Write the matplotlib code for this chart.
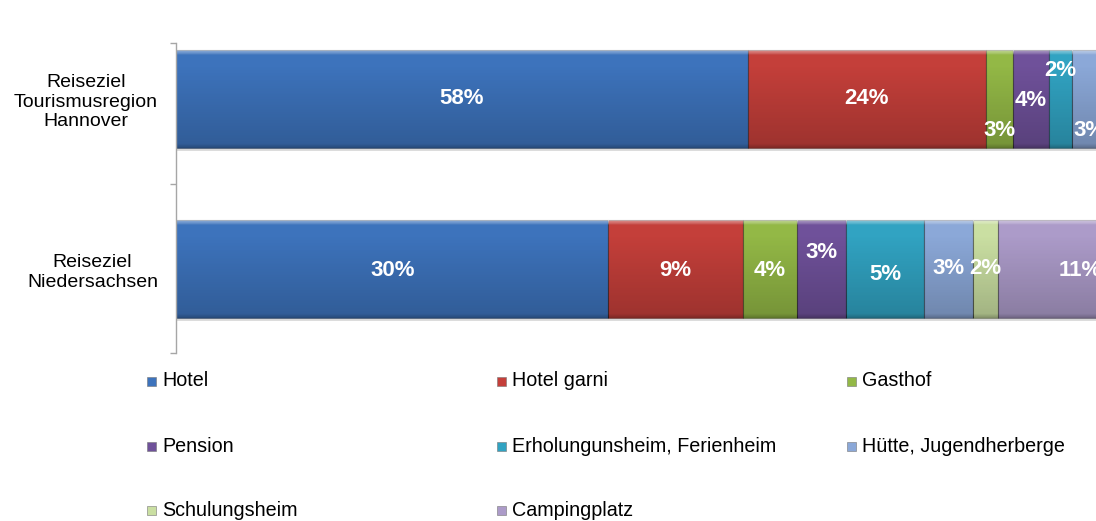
import numpy as np
import matplotlib
matplotlib.use("Agg")
import matplotlib.pyplot as plt
from matplotlib.patches import Rectangle

plt.rcParams['font.family'] = ['Liberation Sans', 'DejaVu Sans']

# ---------------- data ----------------
categories = ["Reiseziel\nTourismusregion\nHannover", "Reiseziel\nNiedersachsen"]
series = ["Hotel", "Hotel garni", "Gasthof", "Pension",
          "Erholungunsheim, Ferienheim", "Hütte, Jugendherberge",
          "Schulungsheim", "Campingplatz"]
hannover = [58.0, 24.1, 2.8, 3.6, 2.4, 3.4, 1.4, 4.3]
niedersachsen = [30.0, 9.3, 3.8, 3.4, 5.4, 3.4, 1.7, 11.4]
values = [hannover, niedersachsen]

# ---------------- style ----------------
colors = ["#3D73BC", "#C43F3A", "#93B846", "#6F519A",
          "#31A3C2", "#8BA8D8", "#CADFA2", "#AC9BC9"]
# vertical label offsets (pixels, positive = down), per category per series
label_dy_px = [[0, 0, 32, 1, -29, 32, 0, 0],
               [2, 2, 2, -16, 5, -1, -1, 2]]
px_per_unit = 170.0
bar_h = 98 / px_per_unit

W, H = 1096, 521
fig = plt.figure(figsize=(W / 100, H / 100), dpi=100)
ax = fig.add_axes([176 / W, 1 - 353 / H, 920 / W, (353 - 43) / H])

ylim = (1 + (353 - 269) / px_per_unit, -(99 - 43) / px_per_unit)
xlim = (0, 920 / 986)


def gradient_overlay(rect, x0, x1, yc):
    n = 120
    t = np.linspace(0, 1, n)
    g = np.zeros((n, 1, 4))
    top = np.clip(1 - t / 0.05, 0, 1) * 0.45
    dark = np.clip((t - 0.15) / 0.85, 0, 1) * 0.2 + np.clip((t - 0.96) / 0.04, 0, 1) * 0.15
    white = top > dark
    g[white, 0, :3] = 1.0
    g[white, 0, 3] = top[white]
    g[~white, 0, :3] = 0.0
    g[~white, 0, 3] = dark[~white]
    im = ax.imshow(g, extent=(x0, x1, yc + bar_h / 2, yc - bar_h / 2),
                   origin='upper', aspect='auto', zorder=3, interpolation='bilinear')
    im.set_clip_path(rect)


for ci, vals in enumerate(values):
    total = sum(vals)
    left = 0.0
    # soft shadow under the bar
    ax.barh(ci + 3 / px_per_unit, 1.0, left=0, height=bar_h, color="#BBBBBB",
            alpha=0.5, linewidth=0, zorder=1)
    for si, v in enumerate(vals):
        w = v / total
        bars = ax.barh(ci, w, left=left, height=bar_h, color=colors[si],
                       edgecolor=(0, 0, 0, 0.35), linewidth=0.8, zorder=2)
        rect = bars.patches[0]
        gradient_overlay(rect, left, left + w, ci)
        ax.text(left + w / 2, ci + label_dy_px[ci][si] / px_per_unit,
                f"{v:.0f}%", ha='center', va='center', color='white',
                fontsize=16, fontweight='bold', zorder=5, clip_on=True)
        left += w

ax.set_xlim(*xlim)
ax.set_ylim(*ylim)

# axes styling
for s in ["top", "right", "bottom"]:
    ax.spines[s].set_visible(False)
ax.spines["left"].set_color("#A6A6A6")
ax.spines["left"].set_linewidth(1.0)
ax.spines["left"].set_zorder(6)
ax.set_xticks([])
ax.set_yticks(range(len(categories)))
ax.set_yticklabels(categories, fontsize=14, multialignment='center')
ax.tick_params(axis='y', which='major', length=0, pad=13)
ax.set_yticks([ylim[1], 0.5, ylim[0]], minor=True)
ax.tick_params(axis='y', which='minor', length=4.3, color="#A6A6A6", width=1.0)

# legend (row-major, fixed column positions)
col_x = [147, 497, 847]
row_y = [381, 446, 510]
for i, name in enumerate(series):
    r, c = divmod(i, 3)
    x, y = col_x[c], row_y[r]
    fig.patches.append(Rectangle((x / W, 1 - (y + 4.5) / H), 9 / W, 9 / H,
                                 transform=fig.transFigure, facecolor=colors[i],
                                 edgecolor="#777777", linewidth=0.4))
    fig.text((x + 15) / W, 1 - y / H, name, fontsize=14.2, ha='left', va='center')

fig.savefig("out.png", dpi=100)
